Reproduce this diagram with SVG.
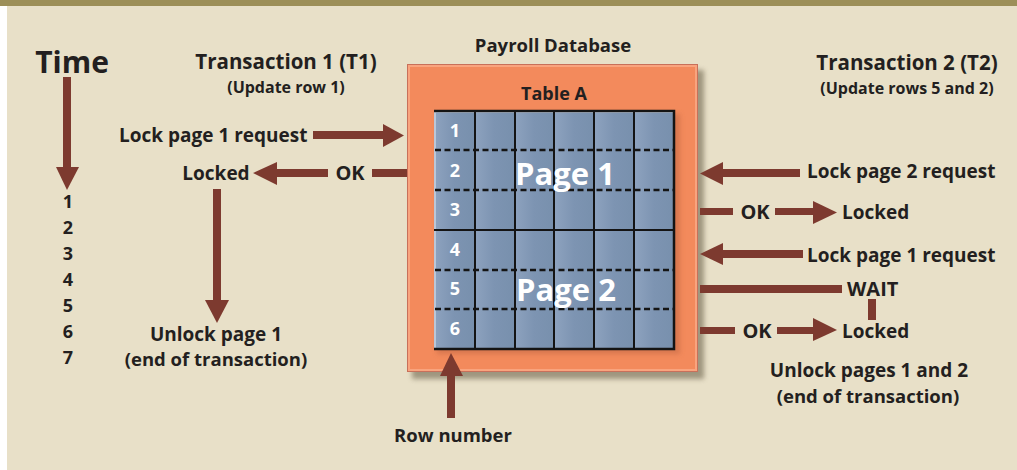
<svg xmlns="http://www.w3.org/2000/svg" width="1017" height="470" viewBox="0 0 1017 470">
<defs>
<style>
text{font-family:"Open Sans","Liberation Sans",sans-serif;font-weight:bold;fill:#231f20}
.lb{font-size:19px}
.ttl{font-size:20.5px}
.sub{font-size:16px}
.num{font-size:18px}
.mid{text-anchor:middle}
.w{fill:#ffffff}
.arr{fill:#7d3a2f}
.grid{stroke:#141414;stroke-width:2;fill:none}
.dash{stroke:#141414;stroke-width:2.5;stroke-dasharray:6 3.5;fill:none}
</style>
<linearGradient id="col" x1="0" y1="0" x2="1" y2="0">
<stop offset="0" stop-color="#8ea3bf"/>
<stop offset="0.5" stop-color="#7d94b2"/>
<stop offset="1" stop-color="#7890ad"/>
</linearGradient>
<pattern id="cols" x="434" y="0" width="40" height="470" patternUnits="userSpaceOnUse">
<rect x="0" y="0" width="40" height="470" fill="url(#col)"/>
</pattern>
<filter id="sh" x="-10%" y="-10%" width="130%" height="130%">
<feGaussianBlur stdDeviation="2.5"/>
</filter>
</defs>
<rect x="0" y="0" width="1017" height="470" fill="#e8e0c8"/>
<rect x="0" y="0" width="7" height="470" fill="#ffffff"/>
<rect x="0" y="0" width="1017" height="6" fill="#9c8f58"/>

<g id="time">
<text x="72" y="73" class="mid" style="font-size:30px">Time</text>
<rect x="63" y="77" width="8" height="91" class="arr"/>
<polygon points="56,167 79,167 67,190" class="arr"/>
<g class="num mid">
<text x="68" y="208">1</text>
<text x="68" y="234">2</text>
<text x="68" y="260">3</text>
<text x="68" y="286">4</text>
<text x="68" y="312">5</text>
<text x="68" y="338">6</text>
<text x="68" y="364">7</text>
</g>
</g>

<g id="t1">
<text x="286" y="69" class="mid ttl">Transaction 1 (T1)</text>
<text x="286" y="93" class="mid sub">(Update row 1)</text>
<text x="119" y="142" class="lb">Lock page 1 request</text>
<text x="216" y="180" class="mid lb">Locked</text>
<text x="350" y="180" class="mid lb" style="font-size:20px">OK</text>
<text x="216" y="341" class="mid lb">Unlock page 1</text>
<text x="216" y="366" class="mid lb" style="font-size:18.5px">(end of transaction)</text>
</g>

<g id="database">
<rect x="412" y="70" width="292" height="309" fill="#8c836c" opacity="0.8" filter="url(#sh)"/>
<rect x="407" y="64" width="291" height="308" fill="#f38a5c"/>
<rect x="408.5" y="65.5" width="288" height="305" fill="none" stroke="#f9a47e" stroke-width="3"/>
<rect x="407.5" y="64.5" width="290" height="307" fill="none" stroke="#c8705a" stroke-width="1"/>
<text x="553" y="52" class="mid" style="font-size:18.5px">Payroll Database</text>
<text x="554" y="100" class="mid" style="font-size:18px">Table A</text>
<rect x="437" y="114" width="243" height="240" fill="#c56a44" opacity="0.6" filter="url(#sh)"/>
<rect x="434" y="111" width="240" height="238" fill="url(#cols)"/>
<path d="M434,112 H674 M435,111 V349" stroke="#c9d4e2" stroke-width="1.5" fill="none"/>
<path class="grid" d="M475,111 V349 M515,111 V349 M554,111 V349 M594,111 V349 M634,111 V349 M434,230 H674"/>
<path class="dash" d="M435,150 H674 M435,190 H674 M435,270 H674 M435,309 H674"/>
<path d="M434,111 H674 V349 H434" stroke="#141414" stroke-width="2.5" fill="none"/>
<g class="num mid">
<text x="455" y="137" class="w">1</text>
<text x="455" y="177" class="w">2</text>
<text x="455" y="216" class="w">3</text>
<text x="455" y="256" class="w">4</text>
<text x="455" y="295" class="w">5</text>
<text x="455" y="335" class="w">6</text>
</g>
<text x="565" y="185" class="mid w" style="font-size:31px">Page 1</text>
<text x="566" y="301" class="mid w" style="font-size:31px">Page 2</text>
</g>

<g id="rownumber">
<text x="453" y="442" class="mid" style="font-size:18.5px">Row number</text>
</g>

<g id="t2">
<text x="907" y="70" class="mid ttl">Transaction 2 (T2)</text>
<text x="907" y="94" class="mid sub">(Update rows 5 and 2)</text>
<text x="807" y="178" class="lb">Lock page 2 request</text>
<text x="755" y="219" class="mid lb" style="font-size:20px">OK</text>
<text x="842" y="219" class="lb">Locked</text>
<text x="807" y="262" class="lb">Lock page 1 request</text>
<text x="847" y="296" class="lb" style="font-size:20px">WAIT</text>
<text x="757" y="338" class="mid lb" style="font-size:20px">OK</text>
<text x="842" y="338" class="lb">Locked</text>
<text x="869" y="377" class="mid lb">Unlock pages 1 and 2</text>
<text x="868" y="403" class="mid lb" style="font-size:18.5px">(end of transaction)</text>
</g>

<g id="connectors" class="arr">
<rect x="313" y="131" width="71" height="8"/>
<polygon points="383,124 383,147 404,135.5"/>
<rect x="372" y="169" width="35" height="8"/>
<rect x="276" y="169" width="52" height="8"/>
<polygon points="277,162 277,185 253,173"/>
<rect x="213" y="189" width="8" height="112"/>
<polygon points="205,300 229,300 217,323"/>
<rect x="447" y="375" width="8" height="43"/>
<polygon points="440,376 463,376 451,353"/>
<rect x="721" y="169" width="79" height="8"/>
<polygon points="723,162 723,185 700,173.5"/>
<rect x="700" y="208" width="33" height="7"/>
<rect x="775" y="208" width="39" height="7"/>
<polygon points="813,201 813,224 837,212.5"/>
<rect x="721" y="250" width="82" height="8"/>
<polygon points="723,243 723,265 700,254"/>
<rect x="700" y="285" width="142" height="8"/>
<rect x="868" y="299" width="8" height="21"/>
<rect x="700" y="327" width="35" height="7"/>
<rect x="777" y="327" width="37" height="7"/>
<polygon points="813,318 813,341 837,330"/>
</g>
</svg>
